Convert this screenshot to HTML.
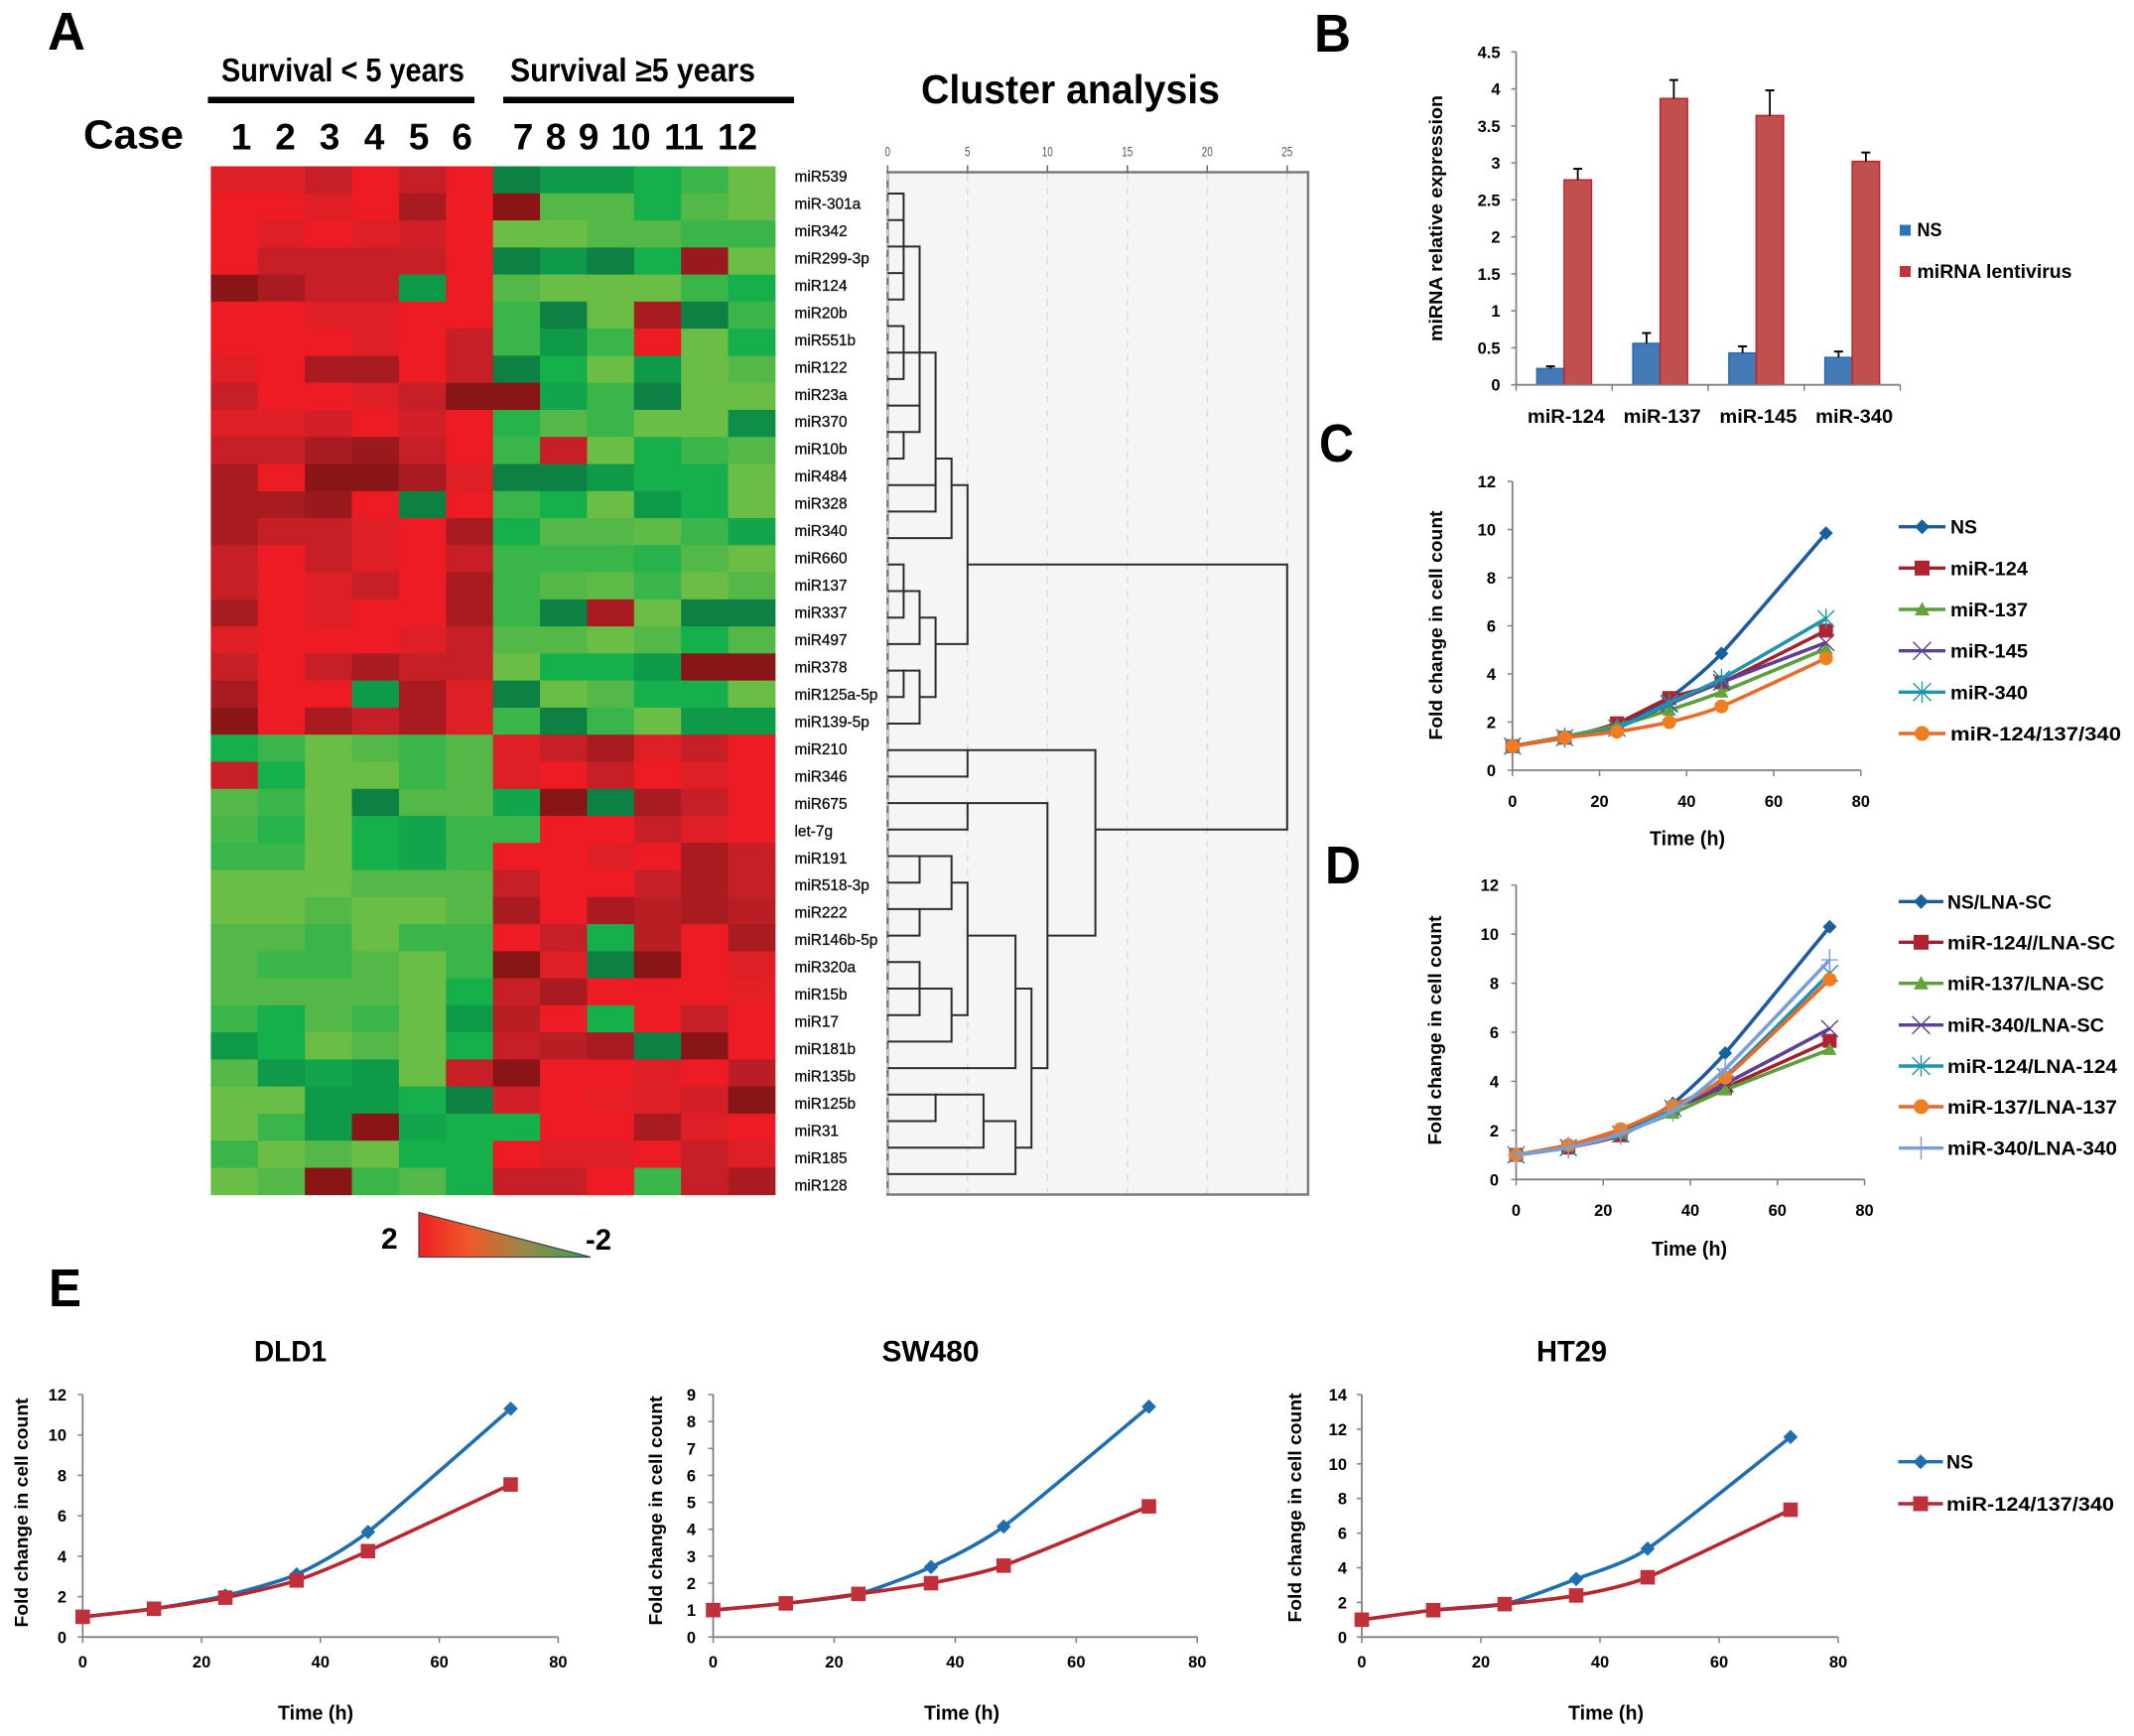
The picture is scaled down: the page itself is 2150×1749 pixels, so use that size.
<!DOCTYPE html>
<html lang="en">
<head>
<meta charset="utf-8">
<title>miRNA heatmap, cluster analysis and cell growth panels</title>
<style>
html,body{margin:0;padding:0;background:#fff;}
svg{display:block;}
text{font-family:"Liberation Sans",sans-serif;}
</style>
</head>
<body>
<svg id="figure" xmlns="http://www.w3.org/2000/svg" width="2150" height="1749" viewBox="0 0 2150 1749">
  <defs>
    <linearGradient id="scaleGrad" x1="0" y1="0" x2="1" y2="0">
      <stop offset="0" stop-color="#ee2024"/>
      <stop offset="0.3" stop-color="#ef5a28"/>
      <stop offset="0.65" stop-color="#8f8c4c"/>
      <stop offset="1" stop-color="#35a455"/>
    </linearGradient>
  </defs>
  <rect width="2150" height="1749" fill="#fff"/>

  <text x="48" y="50" font-size="54" font-weight="bold" textLength="38" lengthAdjust="spacingAndGlyphs">A</text>
  <text x="1324" y="52" font-size="54" font-weight="bold" textLength="37" lengthAdjust="spacingAndGlyphs">B</text>
  <text x="1329" y="465" font-size="54" font-weight="bold" textLength="35" lengthAdjust="spacingAndGlyphs">C</text>
  <text x="1335" y="890" font-size="54" font-weight="bold" textLength="36" lengthAdjust="spacingAndGlyphs">D</text>
  <text x="49" y="1316" font-size="54" font-weight="bold" textLength="33" lengthAdjust="spacingAndGlyphs">E</text>

  <text x="223" y="82" font-size="33" font-weight="bold" textLength="245" lengthAdjust="spacingAndGlyphs">Survival &lt; 5 years</text>
  <text x="514" y="82" font-size="33" font-weight="bold" textLength="247" lengthAdjust="spacingAndGlyphs">Survival ≥5 years</text>
  <rect x="209.5" y="97.5" width="268.5" height="6.5" fill="#000"/>
  <rect x="507" y="97.5" width="293" height="6.5" fill="#000"/>
  <text x="84" y="149.5" font-size="41" font-weight="bold" textLength="101" lengthAdjust="spacingAndGlyphs">Case</text>
  <text x="928" y="104" font-size="41" font-weight="bold" textLength="301" lengthAdjust="spacingAndGlyphs">Cluster analysis</text>

  <polygon points="422,1221.5 422,1266.5 595,1266.5" fill="url(#scaleGrad)" stroke="#444" stroke-width="1.2"/>
  <text x="384" y="1258" font-size="30" font-weight="bold">2</text>
  <text x="590" y="1259" font-size="30" font-weight="bold" textLength="26" lengthAdjust="spacingAndGlyphs">-2</text>

  <text x="256" y="1371.7" font-size="30" font-weight="bold" textLength="73" lengthAdjust="spacingAndGlyphs">DLD1</text>
  <text x="888.5" y="1371.7" font-size="30" font-weight="bold" textLength="98" lengthAdjust="spacingAndGlyphs">SW480</text>
  <text x="1548" y="1371.7" font-size="30" font-weight="bold" textLength="71" lengthAdjust="spacingAndGlyphs">HT29</text>
</svg>

<script>
/* ---------- Panel A data ---------- */
const mirnaNames = ['miR539','miR-301a','miR342','miR299-3p','miR124','miR20b','miR551b','miR122','miR23a','miR370','miR10b','miR484','miR328','miR340','miR660','miR137','miR337','miR497','miR378','miR125a-5p','miR139-5p','miR210','miR346','miR675','let-7g','miR191','miR518-3p','miR222','miR146b-5p','miR320a','miR15b','miR17','miR181b','miR135b','miR125b','miR31','miR185','miR128'];
const caseLabels = ['1','2','3','4','5','6','7','8','9','10','11','12'];
/* Intensity: +1..+5 bright to dark red, -1..-6 light to dark green */
const heatValues = [
[2,2,3,1,3,1,-6,-5,-5,-4,-3,-1],
[1,1,2,1,4,1,5,-2,-2,-4,-2,-1],
[1,2,1,2,2.5,1,-1,-1,-2,-2,-3,-3],
[1,3,3,3,3,1,-6,-5,-6,-4,4.5,-1],
[5,4,3,3,-5,1,-2,-1,-1,-1,-3,-4],
[1,1,2,2,1,1,-3,-6,-1,4,-6,-3],
[1,1,1,2,1,3,-3,-5,-3,1,-1,-4],
[2,1,4,4,1,3,-6,-4,-1,-5,-1,-2],
[3,1,1,2,3,5,5,-4.5,-3,-6,-1,-1],
[2,2,2.5,1,2.5,1,-3.5,-2,-3,-1,-1,-5.5],
[3,3,4,4.5,3,1,-3,3,-1,-4,-3,-2],
[4,1,5,5,4,2,-6,-6,-5,-4,-4,-1],
[4,4,4.5,1,-6,1,-3,-4,-1,-5,-4,-1],
[4,3,3,2,1,4,-4,-2,-2,-1.5,-3,-4.5],
[3,1,3,2,1,3,-3,-3,-3,-3.5,-2,-1],
[3,1,2,3,1,4,-3,-2,-1.5,-3,-1,-2],
[4,1,2,1,1,4,-3,-6,4,-1,-6,-6],
[2,1,1,1,2,3,-2,-2,-1,-2,-4,-2],
[3,1,3,4,3,3,-1,-4,-4,-5,5,5],
[4,1,1,-5,4,2,-6,-1,-2,-4,-4,-1],
[5,1,4,3,4,2,-3,-6,-3,-1,-5,-5],
[-4,-3,-1,-2,-3,-2,2,3,4,2,3,1],
[3,-4,-1,-1,-3,-2,2,1,3,1,2,1],
[-2,-3,-1,-6,-2,-2,-4.5,5,-6,4,3,1],
[-2.5,-3.5,-1,-4,-4.5,-3,-3,1,1,3,2,1],
[-3,-3,-1,-4,-4.5,-3,1,1,2,1,4,3],
[-1,-1,-1,-2,-2,-2,3,1,1,3,4,3],
[-1,-1,-2,-1,-1,-2,4,1,4,3.5,4,3.5],
[-2,-2,-3,-1,-3,-3,1,3,-4,3.5,1,4],
[-2,-3,-3,-2,-1,-3,5,2,-6,5,1,2],
[-2,-2,-2,-2,-1,-4,3,4,1,1,1,1.5],
[-3,-4,-2,-3,-1,-5,3.5,1,-4,1,3,1],
[-5,-4,-1,-2,-1,-4,3,3.5,4,-6,5,1],
[-2,-5,-4.5,-5,-1,3,5,1,1,2,1,3.5],
[-1,-1,-5,-5,-4,-6,2.5,1,1.5,2,2.5,5],
[-1,-3,-5,5,-4.5,-4,-4,1,1,4,2,1],
[-3,-1,-2,-1,-4,-4,1,2,2,1,3,2],
[-1,-2,5,-3,-2,-4,3,3,1,-3,3,4]
];
const dendroTicks = [0,5,10,15,20,25];
/* leaf index, from distance, to distance */
const dendroHorizontal = [[0,0,1],[1,0,1],[2,0,2],[3,0,1],[4,0,1],[5,0,1],[6,0,3],[7,0,1],[8,0,2],[9,0,2],[10,0,1],[10,3,4],[11,0,3],[11,4,5],[12,0,3],[13,0,4],[14,0,1],[14,5,25],[15,0,2],[16,0,1],[16,2,3],[17,0,2],[17,3,5],[18,0,2],[19,0,1],[19,2,3],[20,0,2],[21,0,13],[22,0,5],[23,0,10],[24,0,5],[24,13,25],[25,0,4],[26,0,2],[26,4,5],[27,0,4],[28,0,2],[28,5,8],[28,10,13],[29,0,2],[30,0,4],[30,8,9],[31,0,2],[31,4,5],[32,0,4],[33,0,8],[33,9,10],[34,0,6],[35,0,3],[35,6,8],[36,0,6],[36,8,9],[37,0,8]];
/* distance, first leaf, last leaf */
const dendroVertical = [[1,0,4],[1,5,7],[2,2,9],[1,9,10],[3,6,12],[4,10,13],[5,11,17],[1,14,16],[2,15,17],[3,16,19],[1,18,19],[2,18,20],[25,14,24],[13,21,28],[5,21,22],[10,23,33],[5,23,24],[9,30,36],[8,28,33],[8,35,37],[6,34,36],[3,34,35],[5,26,31],[4,25,27],[2,25,26],[2,27,28],[2,29,31],[4,30,32]];

/* ---------- Panel B data ---------- */
const barCategories = ['miR-124','miR-137','miR-145','miR-340'];
const barTickLabels = ['0','0.5','1','1.5','2','2.5','3','3.5','4','4.5'];
const barTickValues = [0,0.5,1,1.5,2,2.5,3,3.5,4,4.5];
const barNS = [0.22,0.56,0.43,0.37];
const barLentivirus = [2.77,3.87,3.64,3.02];
const errNS = [0.03,0.14,0.09,0.08];
const errLentivirus = [0.15,0.25,0.34,0.12];

/* ---------- Line chart data ---------- */
const hours = [0,12,24,36,48,72];
const xTicks = [0,20,40,60,80];
const yTicks12 = [0,2,4,6,8,10,12];
const yTicks9 = [0,1,2,3,4,5,6,7,8,9];
const yTicks14 = [0,2,4,6,8,10,12,14];

const cNS = [1,1.4,1.9,3.0,4.85,9.85];
const cMiR124 = [1,1.35,1.95,3.0,3.65,5.8];
const cMiR137 = [1,1.4,1.85,2.5,3.25,5.05];
const cMiR145 = [1,1.35,1.75,2.75,3.65,5.3];
const cMiR340 = [1,1.35,1.75,2.8,3.8,6.3];
const cCombo = [1,1.35,1.6,2.0,2.65,4.65];

const dNS = [1,1.3,1.9,3.1,5.15,10.3];
const dMiR124 = [1,1.3,1.8,2.9,3.75,5.65];
const dMiR137 = [1,1.4,1.9,2.7,3.65,5.3];
const dMiR340 = [1,1.3,1.85,2.9,3.9,6.15];
const dRescue124 = [1,1.3,1.85,2.9,4.2,8.4];
const dRescue137 = [1,1.4,2.05,3.0,4.15,8.15];
const dRescue340 = [1,1.3,1.85,2.8,4.5,8.95];

const dld1NS = [1,1.4,2.05,3.1,5.2,11.3];
const dld1Combo = [1,1.4,1.95,2.8,4.25,7.55];
const sw480NS = [1,1.25,1.6,2.6,4.1,8.55];
const sw480Combo = [1,1.25,1.6,2.0,2.65,4.85];
const ht29NS = [1,1.55,1.9,3.35,5.1,11.55];
const ht29Combo = [1,1.55,1.9,2.4,3.45,7.35];

/* ---------- helpers ---------- */
const NS_URI = 'http://www.w3.org/2000/svg';
const figure = document.getElementById('figure');

function make(tag, attrs, parent) {
  const node = document.createElementNS(NS_URI, tag);
  for (const k in attrs) node.setAttribute(k, attrs[k]);
  (parent || figure).appendChild(node);
  return node;
}
function label(parent, str, x, y, size, anchor, len, weight, fill, rotate) {
  const attrs = {x: x, y: y, 'font-size': size, 'text-anchor': anchor || 'start', 'font-weight': weight || 'bold', fill: fill || '#000'};
  if (len) { attrs.textLength = len; attrs.lengthAdjust = 'spacingAndGlyphs'; }
  if (rotate) attrs.transform = 'rotate(' + rotate + ' ' + x + ' ' + y + ')';
  const t = make('text', attrs, parent);
  t.textContent = str;
  return t;
}

/* ---------- heatmap ---------- */
const heatLeft = 212.4, heatTop = 167.5, cellW = 47.38, cellH = 27.27;
const redRamp = ['#ed1c24','#de1f26','#c71f27','#a81c21','#8a1517'];
const greenRamp = ['#6abd45','#53b848','#39b54a','#15b04b','#0f9a4a','#0d8144'];
function hexMix(a, b, t) {
  const pa = [1,3,5].map(function (i) { return parseInt(a.substr(i,2),16); });
  const pb = [1,3,5].map(function (i) { return parseInt(b.substr(i,2),16); });
  return 'rgb(' + pa.map(function (v, i) { return Math.round(v + (pb[i]-v)*t); }).join(',') + ')';
}
function heatColor(v) {
  const ramp = v > 0 ? redRamp : greenRamp;
  const a = Math.abs(v) - 1;
  const lo = Math.max(0, Math.min(ramp.length - 1, Math.floor(a)));
  const hi = Math.min(ramp.length - 1, lo + 1);
  return hexMix(ramp[lo], ramp[hi], a - lo);
}
const heatGroup = make('g', {});


heatValues.forEach(function (row, r) {
  row.forEach(function (v, c) {
    const cell = make('rect', {x: heatLeft + c*cellW, y: heatTop + r*cellH, width: cellW + 0.4, height: cellH + 0.4, fill: heatColor(v)}, heatGroup);
    
    
  });
});
const caseCenters = [243,287.6,332,377,422,465.5,527,560,593,635.5,689,743];
caseLabels.forEach(function (s, i) {
  const t = label(figure, s, caseCenters[i], 150.7, 37, 'middle', s.length > 1 ? 40 : 0, 'bold');
  
  
});
mirnaNames.forEach(function (s, i) {
  const t = label(figure, s, 800.5, 183 + i*27.47, 15.4, 'start', 0, 'normal', '#111');
  t.setAttribute('stroke', '#111');
  t.setAttribute('stroke-width', '0.35');
  
  
});

/* ---------- dendrogram ---------- */
const dendroX0 = 894.3, dendroUnit = 16.1, leafY0 = 195, leafStep = 26.7;
const dendroXScale = function (d) { return dendroX0 + d*dendroUnit; };
const leafY = function (i) { return leafY0 + i*leafStep; };
const dendroGroup = make('g', {});


const dendroFrame = make('rect', {x: dendroX0, y: 173.5, width: 423.6, height: 1030, fill: '#f5f5f5', stroke: '#7a7a7a', 'stroke-width': 2.5}, dendroGroup);


dendroTicks.forEach(function (d) {
  const x = dendroXScale(d);
  const grid = make('line', {x1: x, x2: x, y1: 175, y2: 1202, stroke: '#dcdcdc', 'stroke-width': 1.5, 'stroke-dasharray': '7 7'}, dendroGroup);
  
  
  const tick = make('line', {x1: x, x2: x, y1: 166.5, y2: 173.7, stroke: '#666', 'stroke-width': 1.5}, dendroGroup);
  
  
  const t = label(dendroGroup, String(d), x, 157.5, 13.5, 'middle', String(d).length > 1 ? 11 : 5.5, 'normal', '#555');
  
  
});
dendroHorizontal.forEach(function (h) {
  const seg = make('line', {x1: dendroXScale(h[1]), x2: dendroXScale(h[2]), y1: leafY(h[0]), y2: leafY(h[0]), stroke: '#2c2c2c', 'stroke-width': 2}, dendroGroup);
  
  
});
dendroVertical.forEach(function (v) {
  const seg = make('line', {x1: dendroXScale(v[0]), x2: dendroXScale(v[0]), y1: leafY(v[1]) - 1, y2: leafY(v[2]) + 1, stroke: '#2c2c2c', 'stroke-width': 2}, dendroGroup);
  
  
});

/* ---------- bar chart (panel B) ---------- */
const barX0 = 1527.5, barX1 = 1914.5, barY0 = 387.7, barY1 = 52.3, barMax = 4.5;
const barBandW = (barX1 - barX0) / barCategories.length, barW = 27.5;
const barY = function (v) { return barY0 - v*(barY0 - barY1)/barMax; };
const barGroup = make('g', {});


function drawBar(cat, value, err, left, fill, edge, name) {
  const top = barY(value);
  const rect = make('rect', {x: left, y: top, width: barW, height: barY0 - top, fill: fill, stroke: edge, 'stroke-width': 1.5}, barGroup);
  
  
  const cx = left + barW/2, et = barY(value + err);
  const stem = make('line', {x1: cx, x2: cx, y1: top, y2: et, stroke: '#000', 'stroke-width': 1.8}, barGroup);
  
  
  const cap = make('line', {x1: cx - 4.5, x2: cx + 4.5, y1: et, y2: et, stroke: '#000', 'stroke-width': 2}, barGroup);
  
  
}
barCategories.forEach(function (c, i) {
  const center = barX0 + (i + 0.5)*barBandW;
  drawBar(i, barNS[i], errNS[i], center - barW, '#4379b6', '#1f6fb5', 'ns');
  drawBar(i, barLentivirus[i], errLentivirus[i], center, '#c0504d', '#c4202c', 'lentivirus');
  const t = label(barGroup, c, center + 2, 426, 19, 'middle', 78);
  
  
});
const barAxisY = make('line', {x1: barX0, x2: barX0, y1: barY1, y2: barY0, stroke: '#808080', 'stroke-width': 1.8}, barGroup);


const barAxisX = make('line', {x1: barX0, x2: barX1, y1: barY0, y2: barY0, stroke: '#808080', 'stroke-width': 1.8}, barGroup);


for (let i = 0; i <= barCategories.length; i++) {
  const x = barX0 + i*barBandW;
  const tick = make('line', {x1: x, x2: x, y1: barY0, y2: barY0 + 6, stroke: '#808080', 'stroke-width': 1.5}, barGroup);
  
  
}
barTickValues.forEach(function (v, i) {
  const y = barY(v);
  const tick = make('line', {x1: barX0 - 5, x2: barX0, y1: y, y2: y, stroke: '#808080', 'stroke-width': 1.5}, barGroup);
  
  
  const t = label(barGroup, barTickLabels[i], barX0 - 16, y + 6, 16.5, 'end');
  
  
});
const barTitle = label(barGroup, 'miRNA relative expression', 1453, 220, 18, 'middle', 248, 'bold', '#000', -90);


const barLegendNS = make('rect', {x: 1914, y: 226.5, width: 11, height: 11, fill: '#2a75b8'}, barGroup);


const barLegendNSText = label(barGroup, 'NS', 1931.5, 238, 19, 'start', 25);


const barLegendLv = make('rect', {x: 1914, y: 268, width: 11, height: 11, fill: '#c0343a'}, barGroup);


const barLegendLvText = label(barGroup, 'miRNA lentivirus', 1931.5, 280, 19, 'start', 156);



/* ---------- line charts ---------- */
function smoothPath(pts) {
  let d = 'M' + pts[0][0] + ' ' + pts[0][1];
  for (let i = 0; i < pts.length - 1; i++) {
    const p0 = pts[Math.max(0, i-1)], p1 = pts[i], p2 = pts[i+1], p3 = pts[Math.min(pts.length-1, i+2)];
    const k = 0.11;
    d += ' C' + (p1[0] + (p2[0]-p0[0])*k) + ' ' + (p1[1] + (p2[1]-p0[1])*k) + ' ' +
         (p2[0] - (p3[0]-p1[0])*k) + ' ' + (p2[1] - (p3[1]-p1[1])*k) + ' ' + p2[0] + ' ' + p2[1];
  }
  return d;
}
function drawMarker(parent, kind, x, y, r, color) {
  let node;
  if (kind === 'diamond') {
    node = make('polygon', {points: [[x,y-r],[x+r,y],[x,y+r],[x-r,y]].join(' '), fill: color}, parent);
  } else if (kind === 'square') {
    node = make('rect', {x: x-r, y: y-r, width: 2*r, height: 2*r, fill: color}, parent);
  } else if (kind === 'triangle') {
    node = make('polygon', {points: [[x,y-r],[x+r,y+r*0.8],[x-r,y+r*0.8]].join(' '), fill: color}, parent);
  } else if (kind === 'circle') {
    node = make('circle', {cx: x, cy: y, r: r, fill: color}, parent);
  } else {
    const R = r*1.2;
    let d = '';
    if (kind === 'cross' || kind === 'star') d += 'M' + (x-R) + ' ' + (y-R) + 'L' + (x+R) + ' ' + (y+R) + 'M' + (x-R) + ' ' + (y+R) + 'L' + (x+R) + ' ' + (y-R);
    if (kind === 'star') d += 'M' + x + ' ' + (y-R*1.2) + 'L' + x + ' ' + (y+R*1.2);
    if (kind === 'plus') d += 'M' + (x-R) + ' ' + y + 'L' + (x+R) + ' ' + y + 'M' + x + ' ' + (y-R*1.3) + 'L' + x + ' ' + (y+R*1.3);
    node = make('path', {d: d, fill: 'none', stroke: color, 'stroke-width': 1.4}, parent);
  }
  return node;
}
function drawLineChart(cfg) {
  const g = make('g', {});
  
  
  const xScale = function (h) { return cfg.x0 + h*(cfg.x1 - cfg.x0)/80; };
  const yScale = function (v) { return cfg.y0 - v*(cfg.y0 - cfg.y1)/cfg.yMax; };

  const yAxis = make('line', {x1: cfg.x0, x2: cfg.x0, y1: cfg.y1, y2: cfg.y0, stroke: '#808080', 'stroke-width': 1.8}, g);
  
  
  const xAxis = make('line', {x1: cfg.x0, x2: cfg.x1, y1: cfg.y0, y2: cfg.y0, stroke: '#808080', 'stroke-width': 1.8}, g);
  
  

  xTicks.forEach(function (h) {
    const x = xScale(h);
    const tick = make('line', {x1: x, x2: x, y1: cfg.y0, y2: cfg.y0 + 6, stroke: '#808080', 'stroke-width': 1.5}, g);
    
    
    const t = label(g, String(h), x, cfg.xLabelY, 16.5, 'middle');
    
    
  });
  cfg.yTicks.forEach(function (v) {
    const y = yScale(v);
    const tick = make('line', {x1: cfg.x0 - 5, x2: cfg.x0, y1: y, y2: y, stroke: '#808080', 'stroke-width': 1.5}, g);
    
    
    const t = label(g, String(v), cfg.yLabelX, y + 6, 16.5, 'end');
    
    
  });

  const xTitle = label(g, 'Time (h)', cfg.timeX, cfg.timeY, 20, 'middle', 76);
  
  
  const yTitle = label(g, 'Fold change in cell count', cfg.yTitleX, cfg.yTitleY, 18, 'middle', 231, 'bold', '#000', -90);
  
  

  cfg.series.forEach(function (s) {
    const pts = s.values.map(function (v, i) { return [xScale(hours[i]), yScale(v)]; });
    const path = make('path', {d: smoothPath(pts), fill: 'none', stroke: s.line, 'stroke-width': 3.6, 'stroke-linejoin': 'round'}, g);
    
    
    pts.forEach(function (p, i) {
      const m = drawMarker(g, s.marker, p[0], p[1], cfg.markerR, s.color);
      
      
    });
  });

  (cfg.legend || []).forEach(function (e) {
    const s = cfg.series[e.index];
    const line = make('line', {x1: cfg.legendX0, x2: cfg.legendX1, y1: e.y, y2: e.y, stroke: s.line, 'stroke-width': 3.4}, g);
    
    
    const mk = drawMarker(g, s.marker, (cfg.legendX0 + cfg.legendX1)/2, e.y, 7.5, s.color);
    
    
    const t = label(g, s.name, cfg.legendTextX, e.y + 7, 19, 'start', e.width);
    
    
  });
}

const BLUE = '#1f5a9e', BLUE_MK = '#17619f', RED = '#a3202e', RED_MK = '#b02330', GREEN = '#5b9f3a', GREEN_MK = '#62a33c',
      PURPLE = '#5d3f94', TEAL = '#1f94ac', ORANGE = '#e9692a', ORANGE_MK = '#ef7d22', SKY = '#7a9fd6';

drawLineChart({
  id: 'panel-c', x0: 1523.8, x1: 1874.8, y0: 776, y1: 485, yMax: 12, yTicks: yTicks12,
  yLabelX: 1507, xLabelY: 813, timeX: 1700, timeY: 851.5, yTitleX: 1453, yTitleY: 630, markerR: 7,
  legendX0: 1913, legendX1: 1960, legendTextX: 1965,
  series: [
    {name: 'NS', values: cNS, line: BLUE, color: BLUE_MK, marker: 'diamond'},
    {name: 'miR-124', values: cMiR124, line: RED, color: RED_MK, marker: 'square'},
    {name: 'miR-137', values: cMiR137, line: GREEN, color: GREEN_MK, marker: 'triangle'},
    {name: 'miR-145', values: cMiR145, line: PURPLE, color: PURPLE, marker: 'cross'},
    {name: 'miR-340', values: cMiR340, line: TEAL, color: TEAL, marker: 'star'},
    {name: 'miR-124/137/340', values: cCombo, line: ORANGE, color: ORANGE_MK, marker: 'circle'}
  ],
  legend: [{index: 0, y: 530.7, width: 27}, {index: 1, y: 572.3, width: 78}, {index: 2, y: 614, width: 78}, {index: 3, y: 655.7, width: 78}, {index: 4, y: 697.3, width: 78}, {index: 5, y: 739, width: 172}]
});

drawLineChart({
  id: 'panel-d', x0: 1527.5, x1: 1878.5, y0: 1188.3, y1: 891.7, yMax: 12, yTicks: yTicks12,
  yLabelX: 1510, xLabelY: 1225, timeX: 1702, timeY: 1265, yTitleX: 1452, yTitleY: 1038, markerR: 7,
  legendX0: 1913, legendX1: 1958, legendTextX: 1962,
  series: [
    {name: 'NS/LNA-SC', values: dNS, line: BLUE, color: BLUE_MK, marker: 'diamond'},
    {name: 'miR-124//LNA-SC', values: dMiR124, line: RED, color: RED_MK, marker: 'square'},
    {name: 'miR-137/LNA-SC', values: dMiR137, line: GREEN, color: GREEN_MK, marker: 'triangle'},
    {name: 'miR-340/LNA-SC', values: dMiR340, line: PURPLE, color: PURPLE, marker: 'cross'},
    {name: 'miR-124/LNA-124', values: dRescue124, line: TEAL, color: TEAL, marker: 'star'},
    {name: 'miR-137/LNA-137', values: dRescue137, line: ORANGE, color: ORANGE_MK, marker: 'circle'},
    {name: 'miR-340/LNA-340', values: dRescue340, line: SKY, color: SKY, marker: 'plus'}
  ],
  legend: [{index: 0, y: 908.3, width: 105}, {index: 1, y: 949.3, width: 169}, {index: 2, y: 990.7, width: 158}, {index: 3, y: 1032.7, width: 158}, {index: 4, y: 1074, width: 171}, {index: 5, y: 1115, width: 171}, {index: 6, y: 1156.7, width: 171}]
});

const E_BLUE = '#1f6eb0', E_RED = '#b8262f', E_RED_MK = '#c0303a';
drawLineChart({
  id: 'dld1', x0: 83.3, x1: 562.4, y0: 1649.3, y1: 1405, yMax: 12, yTicks: yTicks12,
  yLabelX: 67, xLabelY: 1680, timeX: 318, timeY: 1732.7, yTitleX: 28, yTitleY: 1524, markerR: 7.3,
  series: [
    {name: 'NS', values: dld1NS, line: E_BLUE, color: E_BLUE, marker: 'diamond'},
    {name: 'miR-124/137/340', values: dld1Combo, line: E_RED, color: E_RED_MK, marker: 'square'}
  ]
});
drawLineChart({
  id: 'sw480', x0: 718.5, x1: 1206.3, y0: 1649.3, y1: 1405, yMax: 9, yTicks: yTicks9,
  yLabelX: 701, xLabelY: 1680, timeX: 969, timeY: 1732.7, yTitleX: 667, yTitleY: 1522, markerR: 7.3,
  series: [
    {name: 'NS', values: sw480NS, line: E_BLUE, color: E_BLUE, marker: 'diamond'},
    {name: 'miR-124/137/340', values: sw480Combo, line: E_RED, color: E_RED_MK, marker: 'square'}
  ]
});
drawLineChart({
  id: 'ht29', x0: 1372, x1: 1852, y0: 1649.3, y1: 1405, yMax: 14, yTicks: yTicks14,
  yLabelX: 1357, xLabelY: 1680, timeX: 1618, timeY: 1732.7, yTitleX: 1311, yTitleY: 1519, markerR: 7.3,
  legendX0: 1912.5, legendX1: 1957.5, legendTextX: 1961,
  series: [
    {name: 'NS', values: ht29NS, line: E_BLUE, color: E_BLUE, marker: 'diamond'},
    {name: 'miR-124/137/340', values: ht29Combo, line: E_RED, color: E_RED_MK, marker: 'square'}
  ],
  legend: [{index: 0, y: 1472.7, width: 27}, {index: 1, y: 1515, width: 169}]
});
</script>
</body>
</html>
